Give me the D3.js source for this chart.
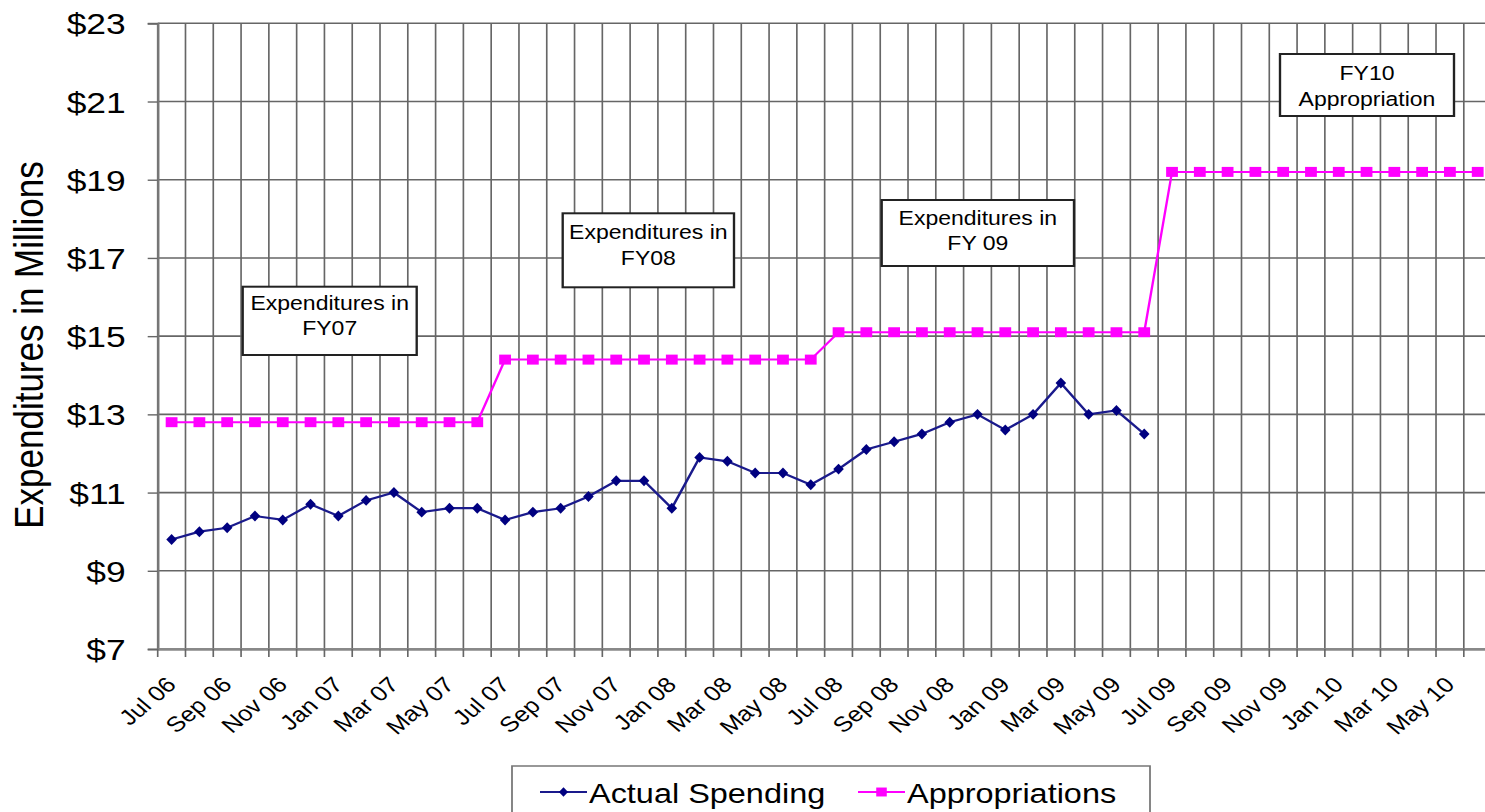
<!DOCTYPE html>
<html><head><meta charset="utf-8">
<script src="https://cdn.jsdelivr.net/npm/d3@7"></script>
<style>body{margin:0;background:#fff}svg{display:block}text{font-family:"Liberation Sans",Arial,sans-serif;fill:#000}</style>
</head><body>
<svg id="chart" width="1485" height="812"></svg>
<script>
// ---------- data ----------
const months = ["Jul 06","Aug 06","Sep 06","Oct 06","Nov 06","Dec 06","Jan 07","Feb 07","Mar 07","Apr 07","May 07","Jun 07",
  "Jul 07","Aug 07","Sep 07","Oct 07","Nov 07","Dec 07","Jan 08","Feb 08","Mar 08","Apr 08","May 08","Jun 08",
  "Jul 08","Aug 08","Sep 08","Oct 08","Nov 08","Dec 08","Jan 09","Feb 09","Mar 09","Apr 09","May 09","Jun 09",
  "Jul 09","Aug 09","Sep 09","Oct 09","Nov 09","Dec 09","Jan 10","Feb 10","Mar 10","Apr 10","May 10","Jun 10"];
const actualSpending = [9.8,10.0,10.1,10.4,10.3,10.7,10.4,10.8,11.0,10.5,10.6,10.6,
  10.3,10.5,10.6,10.9,11.3,11.3,10.6,11.9,11.8,11.5,11.5,11.2,
  11.6,12.1,12.3,12.5,12.8,13.0,12.6,13.0,13.8,13.0,13.1,12.5];
const appropriations = [12.8,12.8,12.8,12.8,12.8,12.8,12.8,12.8,12.8,12.8,12.8,12.8,
  14.4,14.4,14.4,14.4,14.4,14.4,14.4,14.4,14.4,14.4,14.4,14.4,
  15.1,15.1,15.1,15.1,15.1,15.1,15.1,15.1,15.1,15.1,15.1,15.1,
  19.2,19.2,19.2,19.2,19.2,19.2,19.2,19.2,19.2,19.2,19.2,19.2];
const yTicks = [7,9,11,13,15,17,19,21,23];
const xTickLabels = months.filter((m,i)=>i%2===0);
const seriesNames = ["Actual Spending","Appropriations"];
const noteTexts = [["Expenditures in","FY07"],["Expenditures in","FY08"],["Expenditures in","FY 09"],["FY10","Appropriation"]];

// ---------- layout ----------
const S = 1.18; // horizontal stretch of the original picture
const X = v => v / S;
const svg = d3.select("#chart");
const g = svg.append("g").attr("transform", `scale(${S},1)`);

const x = d3.scaleBand().domain(months).range([X(157.7), X(1491.6)]).paddingInner(0).paddingOuter(0);
const y = d3.scaleLinear().domain([7,23]).range([649,23.3]);
const cx = m => x(m) + x.bandwidth()/2;

const gridColor = "#666";
// horizontal grid
g.append("g").selectAll("line").data(yTicks).join("line")
  .attr("x1", X(157.7)).attr("x2", X(1491.6))
  .attr("y1", d=>y(d)).attr("y2", d=>y(d))
  .attr("stroke", gridColor).attr("stroke-width", 1.6);
// vertical grid at category boundaries
const bounds = months.map(m=>x(m)).concat([x.range()[1]]);
g.append("g").selectAll("line").data(bounds).join("line")
  .attr("x1", d=>d).attr("x2", d=>d).attr("y1", y(23)).attr("y2", y(7))
  .attr("stroke", gridColor).attr("stroke-width", 1.4);

// y axis
const yAxis = g.append("g").attr("transform", `translate(${X(157.7)},0)`)
  .call(d3.axisLeft(y).tickValues(yTicks).tickFormat(d=>"$"+d).tickSize(X(10)).tickPadding(X(32)-X(10)));
yAxis.select(".domain").attr("stroke", "#777").attr("stroke-width", 2);
yAxis.selectAll(".tick line").attr("stroke", gridColor).attr("stroke-width", 1.4);
yAxis.selectAll(".tick text").attr("font-size", 30).attr("fill", "#000").attr("dy", "0.35em")
  .style("font-family", '"Liberation Sans",Arial,sans-serif');

// x axis
const xAxis = g.append("g").attr("transform", `translate(0,${y(7)})`)
  .call(d3.axisBottom(x).tickSize(0).tickFormat(d => xTickLabels.includes(d) && months.indexOf(d)%2===0 ? d : ""));
xAxis.select(".domain").attr("stroke", "#888").attr("stroke-width", 2.5);
xAxis.selectAll(".tick text")
  .attr("font-size", 21.5).attr("fill","#000")
  .style("font-family", '"Liberation Sans",Arial,sans-serif')
  .attr("text-anchor","end").attr("dy", 0).attr("y", 0)
  .attr("transform", `translate(${X(6)},37) rotate(-45)`);
// tick marks at boundaries below axis
g.append("g").selectAll("line").data(bounds).join("line")
  .attr("x1", d=>d).attr("x2", d=>d).attr("y1", y(7)).attr("y2", y(7)+8)
  .attr("stroke", gridColor).attr("stroke-width", 1.4);

// y title
g.append("text").attr("transform", `translate(${X(43)},345) rotate(-90)`)
  .attr("text-anchor","middle").attr("font-size", 35).text("Expenditures in Millions");

// ---------- series ----------
const navy = "#000080", magenta = "#FF00FF";
const line = d3.line().x((d,i)=>cx(months[i])).y(d=>y(d));
g.append("path").datum(appropriations).attr("d", line)
  .attr("fill","none").attr("stroke", magenta).attr("stroke-width", 2);
g.append("path").datum(actualSpending).attr("d", line)
  .attr("fill","none").attr("stroke", "#1a1a8c").attr("stroke-width", 2.2);

const sq = d3.symbol(d3.symbolSquare, 100);
g.append("g").selectAll("path").data(appropriations).join("path")
  .attr("d", sq).attr("fill", magenta)
  .attr("transform", (d,i)=>`translate(${cx(months[i])},${y(d)})`);
const dia = d3.symbol(d3.symbolSquare, 60);
g.append("g").selectAll("path").data(actualSpending).join("path")
  .attr("d", dia).attr("fill", navy)
  .attr("transform", (d,i)=>`translate(${cx(months[i])},${y(d)}) scale(0.82,1) rotate(45)`);

// ---------- annotation boxes ----------
const noteBoxes = [[242.7,286.7,416.7,355,310,335],[562.7,213.3,734,287.3,239,265],[881.7,200,1074,266,225,250],[1280,54,1454,116,80,106]];
noteTexts.forEach((lines,k)=>{
  const b = noteBoxes[k];
  g.append("rect").attr("x", X(b[0])).attr("y", b[1]).attr("width", X(b[2]-b[0])).attr("height", b[3]-b[1])
    .attr("fill","#fff").attr("stroke","#222").attr("stroke-width",2);
  lines.forEach((t,j)=>{
    g.append("text").attr("x", X((b[0]+b[2])/2)).attr("y", b[4+j]).attr("text-anchor","middle")
      .attr("font-size", 19.5).attr("fill","#222").text(t);
  });
});

// ---------- legend ----------
const lg = g.append("g");
lg.append("rect").attr("x", X(512)).attr("y", 766).attr("width", X(1150-512)).attr("height", 80)
  .attr("fill","#fff").attr("stroke","#777").attr("stroke-width",1.5);
const legendItems = [{name: seriesNames[0], color:"#1a1a8c", mk:"d", x0:540, tx:589},
                     {name: seriesNames[1], color:magenta, mk:"s", x0:858, tx:907}];
legendItems.forEach(it=>{
  lg.append("line").attr("x1", X(it.x0)).attr("x2", X(it.x0+47)).attr("y1", 792).attr("y2", 792)
    .attr("stroke", it.color).attr("stroke-width", 2.2);
  const mx = X(it.x0+23.5);
  if (it.mk==="d") lg.append("path").attr("d", d3.symbol(d3.symbolSquare, 45)).attr("fill", navy)
      .attr("transform", `translate(${mx},792) scale(0.82,1) rotate(45)`);
  else lg.append("path").attr("d", d3.symbol(d3.symbolSquare, 80)).attr("fill", magenta)
      .attr("transform", `translate(${mx},792)`);
  lg.append("text").attr("x", X(it.tx)).attr("y", 803).attr("font-size", 27.5).text(it.name);
});
</script>
</body></html>
